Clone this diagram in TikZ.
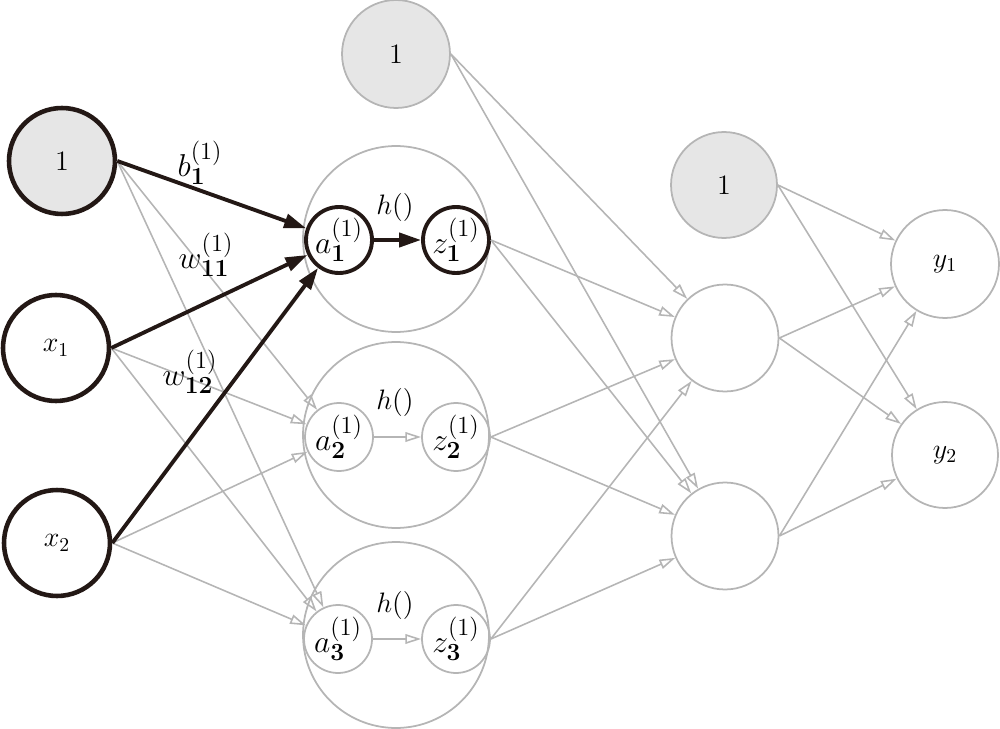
\RequirePackage{fix-cm}
\documentclass[tikz,border=0pt]{standalone}
\usetikzlibrary{arrows.meta}
\definecolor{lg}{HTML}{B5B5B5}
\definecolor{bf}{HTML}{E6E6E6}
\definecolor{dk}{HTML}{231815}
\newcommand\scr[1]{\mbox{\fontsize{14}{15}\selectfont$#1$}}
\newcommand\lab[3]{$#1_{\scr{\mathbf{#2}}}^{\scr{(#3)}}$}
\begin{document}
\begin{tikzpicture}[x=0.02cm,y=-0.02cm,
  every node/.style={font=\fontsize{16}{19}\selectfont, text=black},
  big/.style={font=\fontsize{18}{22}\selectfont},
  inthick/.style={circle, draw=dk, line width=2.6pt, inner sep=0pt, minimum size=2.12cm},
  inbias/.style={inthick, fill=bf},
  graycirc/.style={circle, draw=lg, line width=1pt, inner sep=0pt, minimum size=2.14cm},
  graybias/.style={graycirc, fill=bf},
  bigc/.style={circle, draw=lg, line width=1pt, inner sep=0pt, minimum size=3.72cm},
  smallg/.style={circle, draw=lg, line width=1pt, inner sep=0pt, minimum size=1.36cm, big},
  smallk/.style={circle, draw=dk, line width=2.2pt, inner sep=0pt, minimum size=1.32cm, big},
  gedge/.style={draw=lg, line width=0.9pt, -{Triangle[open, length=9pt, width=5.5pt]}},
  kedge/.style={draw=dk, line width=2.2pt, -{Triangle[length=12.5pt, width=8pt]}},
  lbl/.style={inner sep=0pt}
]
\useasboundingbox (0,0) rectangle (1000,729);
% big hidden circles
\node[bigc] (H1) at (396,239) {};
\node[bigc] (H2) at (396,435) {};
\node[bigc] (H3) at (396,635) {};
% inputs
\node[inbias] (b0) at (62,161) {$1$};
\node[inthick] (x1) at (56,348) {$x_1$};
\node[inthick] (x2) at (57,543) {$x_2$};
% hidden layer 1
\node[smallk] (a1) at (339,240) {\lab{a}{1}{1}};
\node[smallk] (z1) at (456,240) {\lab{z}{1}{1}};
\node[smallg] (a2) at (339,437) {\lab{a}{2}{1}};
\node[smallg] (z2) at (456,437) {\lab{z}{2}{1}};
\node[smallg] (a3) at (338,639) {\lab{a}{3}{1}};
\node[smallg] (z3) at (456,639) {\lab{z}{3}{1}};
\node[graybias, minimum size=2.16cm] (tb) at (396,54) {$1$};
% hidden layer 2
\node[graybias, minimum size=2.12cm] (lb) at (724,185) {$1$};
\node[graycirc] (n1) at (725,338) {};
\node[graycirc] (n2) at (725,536) {};
% outputs
\node[graycirc, minimum size=2.16cm] (y1) at (945,264) {$y_1$};
\node[graycirc, minimum size=2.12cm] (y2) at (945,455) {$y_2$};
% h() labels
\node[lbl] (h1) at (395,207) {$h()$};
\node[lbl] (h2) at (395,402) {$h()$};
\node[lbl] (h3) at (395,605) {$h()$};
% gray edges
\draw[gedge] (b0.east) -- (a2);
\draw[gedge] (b0.east) -- (a3);
\draw[gedge] (x1.east) -- (a2);
\draw[gedge] (x1.east) -- (a3);
\draw[gedge] (x2.east) -- (a2);
\draw[gedge] (x2.east) -- (a3);
\draw[gedge] (a2) -- (z2);
\draw[gedge] (a3) -- (z3);
\draw[gedge] (tb.east) -- (n1);
\draw[gedge] (tb.east) -- (n2);
\draw[gedge] (z1.east) -- (n1);
\draw[gedge] (z1.east) -- (n2);
\draw[gedge] (z2.east) -- (n1);
\draw[gedge] (z2.east) -- (n2);
\draw[gedge] (z3.east) -- (n1);
\draw[gedge] (z3.east) -- (n2);
\draw[gedge] (lb.east) -- (y1);
\draw[gedge] (lb.east) -- (y2);
\draw[gedge] (n1.east) -- (y1);
\draw[gedge] (n1.east) -- (y2);
\draw[gedge] (n2.east) -- (y1);
\draw[gedge] (n2.east) -- (y2);
% black edges
\draw[kedge] (b0.east) -- (a1);
\draw[kedge] (x1.east) -- (a1);
\draw[kedge] (x2.east) -- (a1);
\draw[kedge] (a1) -- (z1);
% weight labels
\node[lbl, big] (lbb) at (200,163) {\lab{b}{1}{1}};
\node[lbl, big] (lw11) at (206,255) {\lab{w}{11}{1}};
\node[lbl, big] (lw12) at (190,372) {\lab{w}{12}{1}};
\end{tikzpicture}
\end{document}
